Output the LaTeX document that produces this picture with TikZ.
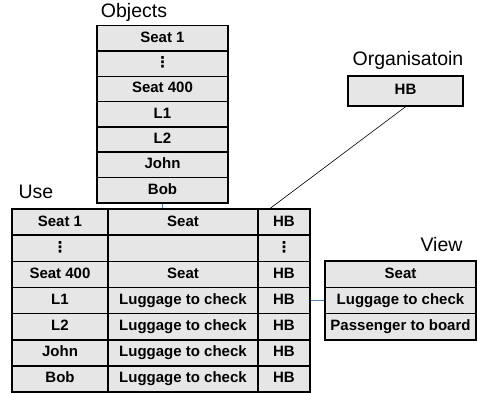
\documentclass[tikz,border=0pt]{standalone}
\usepackage{fontspec}
\setsansfont{Liberation Sans}
\newfontfamily\dotsfont{DejaVu Sans}
\definecolor{cellgray}{RGB}{230,230,230}
\definecolor{linkblue}{RGB}{79,129,189}

\begin{document}
\begin{tikzpicture}[x=1pt, y=-1pt]
    \tikzset{cell/.style={draw, line width=1.5pt, fill=cellgray, inner sep=0pt,
            text height=11pt, text depth=3pt,
            font=\sffamily\bfseries\fontsize{15}{18}\selectfont},
        objcell/.style={cell, minimum width=131pt, minimum height=25.3pt},
        usecell/.style={cell, minimum height=26.1pt},
        dotcell/.style={font=\dotsfont\bfseries\fontsize{15}{18}\selectfont},
        title/.style={font=\sffamily\fontsize{19.5}{23}\selectfont, inner sep=0pt}}
    \useasboundingbox (0, 0) rectangle (477, 393);
    % \draw (0, 0) grid (477, 393);
    \node[title] (objtitle) at (134, 12) {Objects};
    \node[title] (orgtitle) at (408, 60) {Organisatoin};
    \node[title] (usetitle) at (36, 192) {Use};
    \node[title] (viewtitle) at (441.5, 245) {View};
    % objects
    \node[objcell] (ob1) at (162.5, 38.4) {Seat 1};
    \node[objcell, dotcell] (ob2) at (162.5, 63.7) {⋮};
    \node[objcell] (ob3) at (162.5, 89) {Seat 400};
    \node[objcell] (ob4) at (162.5, 114.3) {L1};
    \node[objcell] (ob5) at (162.5, 139.6) {L2};
    \node[objcell] (ob6) at (162.5, 165) {John};
    \node[objcell] (ob7) at (162.5, 190.3) {Bob};
    % organisation
    \node[cell, minimum width=115pt, minimum height=30pt] (org) at (405.5, 91) {HB};
    % use
    \node[usecell, minimum width=96pt] (u1a) at (60, 222.1) {Seat 1};
    \node[usecell, minimum width=150pt] (u1b) at (183, 222.1) {Seat};
    \node[usecell, minimum width=52pt] (u1c) at (284, 222.1) {HB};
    \node[usecell, dotcell, minimum width=96pt] (u2a) at (60, 248.2) {⋮};
    \node[usecell, minimum width=150pt] (u2b) at (183, 248.2) {};
    \node[usecell, dotcell, minimum width=52pt] (u2c) at (284, 248.2) {⋮};
    \node[usecell, minimum width=96pt] (u3a) at (60, 274.4) {Seat 400};
    \node[usecell, minimum width=150pt] (u3b) at (183, 274.4) {Seat};
    \node[usecell, minimum width=52pt] (u3c) at (284, 274.4) {HB};
    \node[usecell, minimum width=96pt] (u4a) at (60, 300.5) {L1};
    \node[usecell, minimum width=150pt] (u4b) at (183, 300.5) {Luggage to check};
    \node[usecell, minimum width=52pt] (u4c) at (284, 300.5) {HB};
    \node[usecell, minimum width=96pt] (u5a) at (60, 326.6) {L2};
    \node[usecell, minimum width=150pt] (u5b) at (183, 326.6) {Luggage to check};
    \node[usecell, minimum width=52pt] (u5c) at (284, 326.6) {HB};
    \node[usecell, minimum width=96pt] (u6a) at (60, 352.8) {John};
    \node[usecell, minimum width=150pt] (u6b) at (183, 352.8) {Luggage to check};
    \node[usecell, minimum width=52pt] (u6c) at (284, 352.8) {HB};
    \node[usecell, minimum width=96pt] (u7a) at (60, 378.9) {Bob};
    \node[usecell, minimum width=150pt] (u7b) at (183, 378.9) {Luggage to check};
    \node[usecell, minimum width=52pt] (u7c) at (284, 378.9) {HB};
    % view
    \node[cell, minimum width=151pt, minimum height=26.3pt] (v1) at (400.5, 274.2) {Seat};
    \node[cell, minimum width=151pt, minimum height=26.3pt] (v2) at (400.5, 300.5) {Luggage to check};
    \node[cell, minimum width=151pt, minimum height=26.3pt] (v3) at (400.5, 326.8) {Passenger to board};
    % links
    \coordinate (orgend) at (270, 208.5);
    \draw[line width=0.6pt] (org.south) -- (orgend);
    \draw[linkblue, line width=0.6pt] (ob7.south) -- (ob7.south |- u1b.north);
    \draw[linkblue, line width=0.6pt] (u4c.east) -- (v2.west);
\end{tikzpicture}
\end{document}
